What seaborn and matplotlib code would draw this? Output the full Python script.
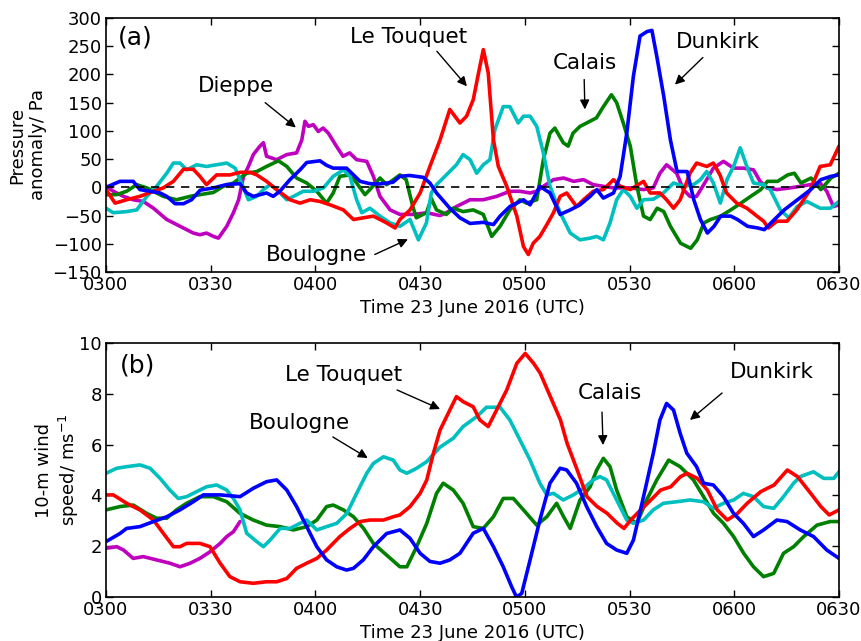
import matplotlib
matplotlib.use("Agg")
import matplotlib.pyplot as plt
import numpy as np
import pandas as pd
import seaborn as sns

# ---------------- data (minutes after 0300 UTC) ----------------
# Panel (a): pressure anomaly / Pa
a_dunkirk_t = [0, 4, 7.8, 9.7, 12.6, 15.5, 17.4, 19.8, 22.2, 24.5, 27, 30.8, 34.6, 38.4, 40.3, 42.2, 46, 47.9, 49.8,
               52.7, 55.6, 57.5, 61.3, 63.2, 65.1, 68.9, 70.9, 72.8, 75.6, 78.5, 82.2, 84.2, 87, 90.9,
               92.8, 94.7, 98.5, 101.4, 104.3, 108.1, 111, 112.9, 115.7, 119.6, 121.5, 124.3, 127.2, 130.1, 133,
               135.8, 138.7, 140.6, 142.5, 145.4, 147.3, 149.2, 151.1, 153, 155, 156.4, 157.8, 159.8, 161.7, 163.6,
               166.5, 168.4, 170.3, 172.3, 174.2, 176.1, 179, 180.9, 183.8, 186.7, 188.6, 191.5, 194.3, 196.2,
               198.1, 201.9, 204.8, 207.7, 210]
a_dunkirk_v = [0, 10.6, 10.6, -4, -7, -10, -16, -29, -29, -22, -5, -1, 5, 6.5, -10, -16, -10, -16, -7,
               13.6, 31, 44, 47, 39, 34, 34, 22, 10.6, 6.5, 6, 9, 19.5, 21, 17.7,
               7.7, -10, -37, -54, -64, -62, -66, -51, -34, -22, -31, 1.8, -10, -48, -40,
               -31, -16, -4, -19, -10, 19.5, 96, 197, 268, 276, 278, 232, 161, 84, 28,
               28, -22, -57, -81, -69, -51, -51, -57, -69, -72, -75, -57, -40, -31,
               -22, -4, 13.6, 19.5, 22]

a_letouquet_t = [0, 2.6, 5.9, 9.7, 13.6, 16.4, 19.3, 22.2, 25, 26.9, 28.8, 31.7, 35.5, 38.4, 41.3, 43.2, 46, 48.9,
                 52.7, 55.6, 58.5, 61.3, 64.2, 68, 70.9, 73.7, 76.6, 80.4, 82.8, 84.2, 87.1, 90,
                 92.8, 95.7, 98.5, 101.4, 103.3, 105.2, 107.1, 108.1, 109.5, 111, 112.4, 114.8, 117.7, 119.6, 121,
                 122.4, 124.3, 126.3, 128.2, 130.1, 132, 134.8, 136.8, 139.6, 142.5, 145.4, 147.3, 150.2, 154,
                 155.9, 158.7, 160.6, 162.6, 164.5, 167.3, 169.2, 172.1, 174, 175.9, 177.8, 180.7, 183.6, 186.5,
                 188.4, 189.8, 192.2, 195.1, 197.9, 201.8, 204.6, 207.5, 210]
a_letouquet_v = [-4, -28, -22, -16, -7, -1, 10.6, 32, 32, 19.5, 4.7, 22, 22, 26.6, 26.6, 22, 10.6, -4,
                 -22, -28, -22, -25, -31, -40, -57, -54, -51, -63, -72, -57, -40, -10,
                 37, 84, 138, 114, 126, 155, 214, 244, 203, 84, 37, 2, -51, -105, -119,
                 -99, -87, -66, -45, -16, -10, -34, -22, -7, -4, 13.6, 2, -4, 10.6,
                 -10, -10, -22, -37, -22, 25, 43, 37, 43, 22, -10, -28, -37, -51,
                 -60, -72, -60, -60, -40, -4, 37, 40, 73]

a_dieppe_t = [0, 2.1, 5, 7.8, 10.7, 13.6, 17.4, 21.2, 25, 26.9, 28.8, 30.8, 32.2, 34.6, 36.5, 38, 39.4, 40.8,
              42.2, 44.1, 45.1, 46, 48.9, 51.8, 54.6, 56.1, 57, 58, 59.4, 60.8, 62.2, 63.7, 66, 67.9, 69.8,
              71.8, 74.7, 76.6, 78.5, 81.4, 84.2, 88, 91.9, 95.7, 97.5, 100.4, 104.3, 108.1, 111.9, 115.7,
              118.6, 121.5, 123.4, 125.3, 128.2, 131.1, 134, 136.8, 139.6, 142.5, 145.4, 150.2, 154, 156.8,
              158.7, 160.6, 163.5, 165.4, 167.3, 169.2, 172.1, 174, 176.9, 179.8, 182.6, 185.5, 187.4, 189.3,
              192.2, 196, 198.9, 201.8, 204.6, 206.5, 208.4, 210]
a_dieppe_v = [2, -7, -16, -22, -25, -37, -57, -69, -81, -84, -81, -87, -90, -69, -45, -22, 19.5, 37,
              58, 73, 79, 55, 49, 58, 61, 84, 117, 108, 111, 99, 105, 96, 73, 55, 61,
              49, 46, 19.5, -16, -40, -48, -48, -45, -50, -45, -34, -22, -22, -16, -7,
              -7, -10, -7, 1.8, 13.6, 16.5, 10.6, 13.6, 4.7, 1.8, -1, -1, -4, -1,
              25, 40, 25, -4, -16, -16, 13.6, 34, 46, 34, 34, 31, 10.6, -1,
              -4, -1, 1.8, 4.7, 7.7, -7, -34, -31]

a_calais_t = [0, 3, 5.9, 8.8, 11.7, 13.6, 16.4, 20.2, 24.1, 26.9, 30.8, 33.6, 36.5, 40.3, 43.2, 46, 49.4, 51.8,
              54.6, 57.5, 60.4, 63.2, 65.1, 67, 69.9, 71.8, 74.2, 75.6, 78.5, 80.4, 84.2, 86, 87.9, 88.9, 91.8,
              93.2, 94.7, 97.5, 99.5, 102.3, 105.2, 108.1, 110.5, 112.9, 115.7, 118.6, 120.5, 123.4, 125.3,
              127.2, 128.6, 131, 132.4, 133.8, 135.8, 137.7, 140.5, 142.5, 144.8, 146.3, 148.2, 150.2, 152.1,
              154, 155.9, 157.9, 159.8, 161.7, 164.6, 167.5, 169.4, 171.3, 173.2, 176.1, 179, 181.9, 184.7,
              187.6, 189.5, 192.4, 195.3, 197.2, 199.1, 202, 204.8, 207.7, 210]
a_calais_v = [-13, -13, -7, 4.7, -1, -7, -16, -22, -16, -13, -9, 1.8, 7.7, 25, 28, 37, 47, 37,
              16.5, 7.7, -7, -28, -10, 19.5, 22, 7.7, -13, -4, 16.5, 4.7, 22, 13.6, -34, -54, -45,
              -20, -40, -48, -37, -43, -40, -48, -87, -69, -40, -22, -28, -22, 49,
              96, 105, 79, 73, 96, 108, 114, 123, 143, 164, 150, 114, 73, 2,
              -51, -57, -37, -43, -69, -99, -108, -93, -63, -57, -51, -40, -28, -16,
              -4, 10.6, 10.6, 22, 25, 7.7, 16.5, -4, 16.5, 25]

a_boulogne_t = [0, 2.1, 5.9, 8.8, 11.7, 14.5, 17.4, 19.3, 21.2, 23.1, 26, 28.8, 31.7, 34.6, 37, 38.4, 40.8, 43.2,
                45.1, 47, 48.9, 51.8, 53.7, 56.5, 59.4, 62.3, 65.1, 68, 69.9, 71.8, 73.3, 75.6, 78.5, 81.4, 84.2,
                87.1, 89.5, 91.8, 93.2, 94.7, 97.5, 100.4, 102.3, 104.3, 106.2, 108.1, 110, 111.4, 113.8, 115.7,
                118.1, 119.6, 121.5, 123.4, 125.3, 127.2, 130.1, 133, 135.8, 138.7, 140.6, 142.5, 144.4, 146.3,
                148.2, 150.2, 152.1, 154, 156.8, 159.7, 162.6, 165.4, 168.3, 170.3, 172.1, 174, 176, 177.9,
                179.8, 181.7, 183.6, 185.5, 188.4, 190.3, 193.2, 195.6, 198, 200.8, 204.6, 207.5, 210]
a_boulogne_v = [-37, -45, -43, -40, -16, 1.8, 25, 43, 43, 31, 40, 37, 40, 43, 34, 13.6, -22, -16,
                -4, 4.7, -4, -22, -16, -7, -7, -1, 19.5, 31, 19.5, -22, -45, -37, -51, -63, -69,
                -57, -93, -63, -10, 4.7, 22, 40, 58, 49, 25, 40, 49, 102, 143, 143,
                114, 126, 126, 108, 61, 2, -45, -81, -93, -90, -87, -93, -63, -22,
                -4, -16, -37, -22, -21, -10, 7.7, 1.8, 4.7, 13.6, 28, 7.7, -28, 13.6,
                37, 70, 37, 7.7, 4.7, -4, -40, -54, -34, -25, -37, -37, -25]

# Panel (b): 10-m wind speed / m s-1
b_dunkirk_t = [0, 4, 5.9, 9.7, 13.6, 17.4, 21.2, 25, 27.9, 32.7, 38.4, 42.2, 46, 48.9, 51.8, 54.6, 57.5, 60.4,
               63.2, 66.1, 68.9, 70.9, 73.7, 76.6, 80.4, 84.2, 87.1, 90, 92.8, 95.7, 98.5, 101.4, 105.2, 108.1,
               111, 113.8, 116.2, 117.6, 119.1, 121.5, 124.3, 127.2, 130.1, 132, 134.8, 137.7, 140.6, 143.4,
               146.3, 149.2, 151.1, 154, 156.8, 158.7, 160.6, 162.6, 164.5, 166.4, 169.2, 171.2, 174, 176.9,
               179.8, 182.6, 185.5, 188.4, 192.2, 195.1, 198.9, 202.7, 206.5, 210]
b_dunkirk_v = [2.18, 2.5, 2.7, 2.77, 2.97, 3.16, 3.43, 3.75, 4.02, 4.02, 3.95, 4.28, 4.54, 4.61, 4.21, 3.56, 2.77, 1.98,
               1.46, 1.19, 1.06, 1.13, 1.46, 1.98, 2.5, 2.64, 2.31, 1.72, 1.4, 1.33, 1.46, 1.72, 2.51, 2.7,
               1.98, 1.19, 0.41, 0.0, 0.14, 1.46, 3.03, 4.48, 5.07, 5.0, 4.48, 3.56, 2.77, 2.11,
               1.85, 1.72, 2.24, 3.95, 5.66, 6.97, 7.62, 7.36, 6.44, 5.66, 5.13, 4.48, 4.41, 3.95,
               3.29, 2.9, 2.38, 2.64, 3.03, 2.97, 2.64, 2.38, 1.85, 1.52]

b_letouquet_t = [0, 2.1, 5.9, 9.7, 13.6, 16.4, 19.3, 21.2, 23.1, 26.9, 29.8, 32.7, 35.5, 38.4, 42.2, 46, 48.9, 51.8,
                 54.6, 57.5, 60.4, 63.2, 67, 69.9, 72.8, 75.6, 79.5, 82.3, 84.2, 87.1, 90, 91.9, 93.8, 95.7, 98.5,
                 100.4, 102.3, 105.2, 107.1, 109.5, 111.9, 114.8, 117.7, 120.1, 122.5, 124.4, 127.3, 130.2, 132.1,
                 135, 137.8, 140.7, 143.6, 146.5, 148.4, 150.3, 153.2, 156.1, 158.9, 161.8, 164.6, 166.5, 169.4,
                 172.3, 175.1, 178, 180.9, 183.7, 187.6, 191.4, 195.2, 198.1, 201.9, 204.8, 207.2, 210]
b_letouquet_v = [4.02, 4.02, 3.69, 3.43, 3.03, 2.51, 1.98, 1.98, 2.11, 2.11, 1.98, 1.33, 0.8, 0.6, 0.54, 0.6, 0.6, 0.73,
                 1.13, 1.33, 1.52, 1.85, 2.38, 2.7, 2.97, 3.03, 3.03, 3.16, 3.23, 3.56, 4.08, 4.61, 5.66, 6.57, 7.36,
                 7.89, 7.69, 7.49, 6.97, 6.71, 7.36, 8.15, 9.2, 9.59, 9.2, 8.81, 7.89, 6.97, 6.05,
                 5.0, 3.95, 3.56, 3.29, 2.9, 2.7, 3.03, 3.43, 3.82, 4.21, 4.34, 4.74, 4.87, 4.67,
                 4.21, 3.43, 3.03, 3.29, 3.69, 4.15, 4.41, 5.0, 4.74, 4.08, 3.56, 3.23, 3.43]

b_dieppe_t = [0, 3.1, 5, 7.8, 10.7, 14.5, 18.3, 21.2, 24.1, 26.9, 29.8, 32.7, 34.6, 36.5, 38.4]
b_dieppe_v = [1.92, 1.98, 1.85, 1.52, 1.59, 1.46, 1.33, 1.19, 1.33, 1.52, 1.78, 2.11, 2.38, 2.57, 2.97]

b_calais_t = [0, 4, 7.8, 11.7, 14.5, 17.4, 20.2, 23.1, 26.9, 30.8, 34.6, 38.4, 42.2, 46, 49.9, 53.7, 57.5, 60.4,
              63.2, 65.1, 68, 70.9, 73.8, 76.6, 80.4, 84.2, 86.2, 89, 91.9, 94.7, 96.6, 99.5, 102.3, 105.2, 108.1,
              111, 113.8, 116.7, 119.6, 123.4, 126.3, 129.1, 131.1, 133, 135.8, 138.7, 140.6, 142.5, 144.4,
              146.3, 149.2, 152.1, 154.9, 157.8, 161.2, 164.5, 168.3, 171.2, 174.1, 176.9, 179.8, 182.7, 185.5,
              188.4, 191.3, 194.1, 197, 199.9, 203.7, 207.5, 210]
b_calais_v = [3.43, 3.56, 3.62, 3.29, 3.1, 3.1, 3.43, 3.69, 3.95, 3.95, 3.75, 3.29, 3.03, 2.83, 2.77, 2.64, 2.77, 3.03,
              3.56, 3.62, 3.43, 3.16, 2.7, 2.11, 1.65, 1.19, 1.19, 1.98, 2.9, 4.08, 4.48, 4.21, 3.69, 2.77, 2.7,
              3.16, 3.88, 3.88, 3.43, 2.83, 3.16, 3.69, 3.16, 2.7, 3.82, 4.34, 5.0, 5.46, 5.13,
              4.21, 3.16, 2.9, 3.82, 4.61, 5.39, 5.13, 4.61, 3.95, 3.29, 2.9, 2.38, 1.72, 1.19,
              0.8, 0.93, 1.72, 1.98, 2.38, 2.83, 2.97, 2.97]

b_boulogne_t = [0, 3.1, 5.9, 9.7, 12.6, 15.5, 18.3, 20.7, 23.1, 26, 28.8, 31.7, 34.6, 36.5, 38.4, 40.3, 43.2, 45.1,
                47, 49.9, 52.7, 55.6, 57.5, 60.4, 63.2, 66.1, 69, 71.8, 74.7, 76.6, 79.5, 82.3, 84.2, 86.2, 89,
                91.9, 95.7, 99.5, 102.3, 106.2, 109, 112.9, 115.7, 118.6, 121.5, 124.3, 126.3, 128.2, 131, 133.9,
                136.8, 139.6, 141.5, 143.4, 146.3, 149.2, 151.1, 154, 156.8, 159.7, 163.5, 167.3, 171.2, 174,
                176.9, 179.8, 182.6, 185.5, 188.4, 191.3, 194.1, 197, 198.9, 202.7, 205.6, 208.5, 210]
b_boulogne_v = [4.87, 5.07, 5.13, 5.2, 5.07, 4.67, 4.21, 3.88, 3.95, 4.15, 4.34, 4.41, 4.21, 3.88, 3.43, 2.51, 2.18, 1.98,
                2.24, 2.7, 2.7, 2.9, 3.03, 2.64, 2.77, 2.9, 3.29, 4.08, 4.87, 5.26, 5.52, 5.39, 5.0, 4.87, 5.07,
                5.33, 5.9, 6.25, 6.71, 7.1, 7.47, 7.47, 6.97, 6.18, 5.39, 4.48, 4.02, 4.08, 3.82, 4.02,
                4.28, 4.61, 4.74, 4.61, 3.82, 3.03, 2.9, 3.03, 3.43, 3.69, 3.75, 3.82, 3.75, 3.49,
                3.69, 3.82, 4.08, 3.95, 3.56, 3.49, 3.95, 4.48, 4.74, 4.93, 4.67, 4.67, 4.93]

stations = ["Dieppe", "Calais", "Boulogne", "Le Touquet", "Dunkirk"]
colors = {"Dunkirk": "#0000ff", "Le Touquet": "#ff0000", "Dieppe": "#bf00bf",
          "Calais": "#008000", "Boulogne": "#00bfbf"}
xtick_vals = [0, 30, 60, 90, 120, 150, 180, 210]
xtick_labels = ["0300", "0330", "0400", "0430", "0500", "0530", "0600", "0630"]


def long_df(series):
    frames = []
    for name, (t, v) in series.items():
        frames.append(pd.DataFrame({"time": t, "value": v, "station": name}))
    return pd.concat(frames, ignore_index=True)


df_a = long_df({"Dieppe": (a_dieppe_t, a_dieppe_v), "Calais": (a_calais_t, a_calais_v),
                "Boulogne": (a_boulogne_t, a_boulogne_v), "Le Touquet": (a_letouquet_t, a_letouquet_v),
                "Dunkirk": (a_dunkirk_t, a_dunkirk_v)})
df_b = long_df({"Dieppe": (b_dieppe_t, b_dieppe_v), "Calais": (b_calais_t, b_calais_v),
                "Boulogne": (b_boulogne_t, b_boulogne_v), "Le Touquet": (b_letouquet_t, b_letouquet_v),
                "Dunkirk": (b_dunkirk_t, b_dunkirk_v)})

sns.set_style("ticks", {"xtick.direction": "in", "ytick.direction": "in"})
plt.rcParams["font.family"] = ["DejaVu Sans"]
plt.rcParams["text.color"] = "black"
plt.rcParams["axes.labelcolor"] = "black"

fig = plt.figure(figsize=(8.62, 6.41), dpi=100)
W, H = 862, 641
ax1 = fig.add_axes([106 / W, 1 - 272 / H, 733 / W, 254 / H])
ax2 = fig.add_axes([106 / W, 1 - 597 / H, 733 / W, 254 / H])

for ax, df in ((ax1, df_a), (ax2, df_b)):
    sns.lineplot(data=df, x="time", y="value", hue="station", hue_order=stations,
                 palette=colors, estimator=None, sort=False, lw=2.6, legend=False, ax=ax)
    ax.set_xlim(0, 210)
    ax.set_xticks(xtick_vals)
    ax.set_xticklabels(xtick_labels)
    ax.tick_params(axis="both", which="major", direction="in", top=True, right=True,
                   length=5, width=1, labelsize=13, pad=3, colors="black")
    for sp in ax.spines.values():
        sp.set_visible(True)
        sp.set_color("black")
        sp.set_linewidth(1.2)
    ax.set_xlabel("Time 23 June 2016 (UTC)", fontsize=13, labelpad=3.5, color="black")

ax1.axhline(0, color="black", ls="--", lw=1.2, dashes=(5, 4), zorder=5)
ax1.set_ylim(-150, 300)
ax1.set_yticks(np.arange(-150, 301, 50))
ax1.set_ylabel("Pressure\nanomaly/ Pa", fontsize=13, labelpad=4, color="black")

ax2.set_ylim(0, 10)
ax2.set_yticks([0, 2, 4, 6, 8, 10])
ax2.set_ylabel("10-m wind\nspeed/ ms$^{-1}$", fontsize=13, labelpad=-1, color="black")

ax1.text(3.4, 266, "(a)", fontsize=18, ha="left", va="center", color="black")
ax2.text(4.0, 9.13, "(b)", fontsize=18, ha="left", va="center", color="black")

arrow = dict(arrowstyle="-|>", color="black", lw=1.0, mutation_scale=14, shrinkA=0, shrinkB=0)
fs = 15.5
tk = dict(fontsize=fs, ha="center", va="center", color="black")
# panel (a)
ax1.text(86.8, 266, "Le Touquet", **tk)
ax1.annotate("", xy=(103.4, 179), xytext=(94.8, 241), arrowprops=arrow)
ax1.text(137.2, 221, "Calais", **tk)
ax1.annotate("", xy=(137.2, 138), xytext=(137.0, 191), arrowprops=arrow)
ax1.text(175.4, 257, "Dunkirk", **tk)
ax1.annotate("", xy=(163, 182), xytext=(171, 230), arrowprops=arrow)
ax1.text(37.2, 179, "Dieppe", **tk)
ax1.annotate("", xy=(54.4, 106), xytext=(45.6, 150), arrowprops=arrow)
ax1.text(60.2, -119, "Boulogne", **tk)
ax1.annotate("", xy=(86.5, -92), xytext=(77, -119), arrowprops=arrow)
# panel (b)
ax2.text(68.2, 8.74, "Le Touquet", **tk)
ax2.annotate("", xy=(95.7, 7.4), xytext=(83.4, 8.15), arrowprops=arrow)
ax2.text(55.3, 6.85, "Boulogne", **tk)
ax2.annotate("", xy=(75, 5.47), xytext=(65, 6.3), arrowprops=arrow)
ax2.text(144.4, 8.03, "Calais", **tk)
ax2.annotate("", xy=(142.4, 5.98), xytext=(142.1, 7.28), arrowprops=arrow)
ax2.text(190.8, 8.86, "Dunkirk", **tk)
ax2.annotate("", xy=(167.3, 6.97), xytext=(176.5, 8.03), arrowprops=arrow)

fig.savefig("out.png", dpi=100)
